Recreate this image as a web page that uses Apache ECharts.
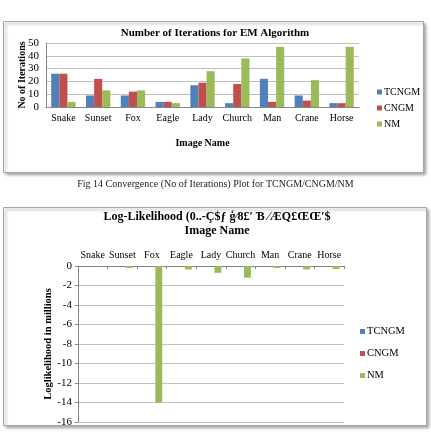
<!DOCTYPE html>
<html lang="en">
<head>
    <meta charset="UTF-8">
    <title>EM iterations and log-likelihood</title>
    <script src="https://cdn.jsdelivr.net/npm/echarts@6/dist/echarts.min.js"></script>
    <style>
        html, body {margin: 0; padding: 0; background: #fff;}
    </style>
</head>
<body>
<div id="main" style="width: 431px;height:434px;"></div>
<script type="text/javascript">
    // data
    var imageNames = ['Snake', 'Sunset', 'Fox', 'Eagle', 'Lady', 'Church', 'Man', 'Crane', 'Horse'];
    var seriesNames = ['TCNGM', 'CNGM', 'NM'];
    // number of iterations
    var iterTCNGM = [26, 9, 9, 4, 17, 3, 22, 9, 3];
    var iterCNGM = [26, 22, 12, 4, 19, 18, 4, 5, 3];
    var iterNM = [4, 13, 13, 3, 28, 38, 47, 21, 47];
    // log-likelihood in millions
    var llTCNGM = [-0.01, -0.01, -0.01, -0.01, -0.01, -0.01, -0.01, -0.01, -0.01];
    var llCNGM = [-0.01, -0.01, -0.01, -0.01, -0.01, -0.01, -0.01, -0.01, -0.01];
    var llNM = [0, -0.2, -14, -0.35, -0.7, -1.2, -0.2, -0.35, -0.3];
    var iterTicks = [0, 50, 10];
    var llTicks = [-16, 0, 2];

    var colors = ['#4F81BD', '#C0504D', '#9BBB59'];
    var serif = 'Liberation Serif';
    var gridColor = '#bfbfbf';

    var myChart = echarts.init(document.getElementById('main'));

    function barSeries(name, data, idx) {
        return {
            name: name,
            type: 'bar',
            xAxisIndex: idx,
            yAxisIndex: idx,
            data: data,
            barGap: '0%',
            barCategoryGap: '30%',
            itemStyle: {color: colors[seriesNames.indexOf(name)]}
        };
    }

    var option = {
        animation: false,
        color: colors,
        textStyle: {fontFamily: serif, color: '#000'},
        graphic: [
            {
                type: 'rect', z: -10,
                shape: {x: 3.5, y: 21.5, width: 420, height: 151},
                style: {fill: '#fff', stroke: '#a6a6a6', lineWidth: 1,
                    shadowBlur: 3, shadowOffsetX: 2, shadowOffsetY: 2, shadowColor: 'rgba(0,0,0,0.35)'}
            },
            {
                type: 'rect', z: -10,
                shape: {x: 3.5, y: 207.5, width: 423, height: 218},
                style: {fill: '#fff', stroke: '#a6a6a6', lineWidth: 1,
                    shadowBlur: 3, shadowOffsetX: 2, shadowOffsetY: 2, shadowColor: 'rgba(0,0,0,0.35)'}
            },
            {
                type: 'text', left: 'center', top: 179,
                style: {
                    text: 'Fig 14 Convergence (No of Iterations) Plot for TCNGM/CNGM/NM',
                    font: '10px "Liberation Serif"', fill: '#222'
                }
            }
        ],
        title: [
            {
                text: 'Number of Iterations for EM Algorithm',
                left: 215, textAlign: 'center', top: 28, padding: 0,
                textStyle: {fontFamily: serif, fontSize: 11, fontWeight: 'bold', color: '#000'}
            },
            {
                text: 'Log-Likelihood (0..-Ç$ƒ ģ⁄8£′ Ɓ ⁄ÆQ£ŒŒ′$\nImage Name',
                left: 217, textAlign: 'center', top: 210, padding: 0,
                textStyle: {fontFamily: serif, fontSize: 12, fontWeight: 'bold', color: '#000', lineHeight: 14}
            }
        ],
        legend: [
            {
                orient: 'vertical', left: 372, top: 82,
                data: seriesNames, icon: 'rect',
                itemWidth: 5, itemHeight: 5, itemGap: 6,
                textStyle: {fontFamily: serif, fontSize: 10, color: '#000', padding: [0, 0, 0, -3]},
                selectedMode: false
            },
            {
                orient: 'vertical', left: 355, top: 321,
                data: seriesNames, icon: 'rect',
                itemWidth: 5, itemHeight: 5, itemGap: 11,
                textStyle: {fontFamily: serif, fontSize: 10.5, color: '#000', padding: [0, 0, 0, -3]},
                selectedMode: false
            }
        ],
        grid: [
            {left: 46, top: 43, width: 313, height: 64},
            {left: 78, top: 266, width: 266, height: 156}
        ],
        xAxis: [
            {
                type: 'category', gridIndex: 0, data: imageNames,
                name: 'Image Name', nameLocation: 'middle', nameGap: 31,
                nameTextStyle: {fontFamily: serif, fontSize: 10, fontWeight: 'bold', color: '#000'},
                axisLine: {lineStyle: {color: '#868686'}},
                axisTick: {show: false},
                axisLabel: {interval: 0, fontFamily: serif, fontSize: 10, color: '#000', margin: 6}
            },
            {
                type: 'category', gridIndex: 1, data: imageNames, position: 'top',
                axisLine: {onZero: false, lineStyle: {color: '#868686'}},
                axisTick: {show: true, inside: true, length: 3, lineStyle: {color: '#868686'}},
                axisLabel: {interval: 0, fontFamily: serif, fontSize: 10, color: '#000', margin: 6}
            }
        ],
        yAxis: [
            {
                type: 'value', gridIndex: 0,
                min: iterTicks[0], max: iterTicks[1], interval: iterTicks[2],
                name: 'No of Iterations', nameLocation: 'middle', nameGap: 19,
                nameMoveOverlap: false,
                nameTextStyle: {fontFamily: serif, fontSize: 10, fontWeight: 'bold', color: '#000'},
                axisLine: {show: true, lineStyle: {color: '#868686'}},
                axisTick: {show: false},
                axisLabel: {fontFamily: serif, fontSize: 11, color: '#000', margin: 7},
                splitLine: {lineStyle: {color: gridColor}}
            },
            {
                type: 'value', gridIndex: 1,
                min: llTicks[0], max: llTicks[1], interval: llTicks[2],
                name: 'Loglikelihood in millions', nameLocation: 'middle', nameGap: 24,
                nameMoveOverlap: false,
                nameTextStyle: {fontFamily: serif, fontSize: 10.5, fontWeight: 'bold', color: '#000'},
                axisLine: {show: true, lineStyle: {color: '#868686'}},
                axisTick: {show: true, length: 3, lineStyle: {color: '#868686'}},
                axisLabel: {fontFamily: serif, fontSize: 11, color: '#000', margin: 6},
                splitLine: {lineStyle: {color: gridColor}}
            }
        ],
        series: [
            barSeries('TCNGM', iterTCNGM, 0),
            barSeries('CNGM', iterCNGM, 0),
            barSeries('NM', iterNM, 0),
            barSeries('TCNGM', llTCNGM, 1),
            barSeries('CNGM', llCNGM, 1),
            barSeries('NM', llNM, 1)
        ]
    };
    myChart.setOption(option);
</script>
</body>
</html>
